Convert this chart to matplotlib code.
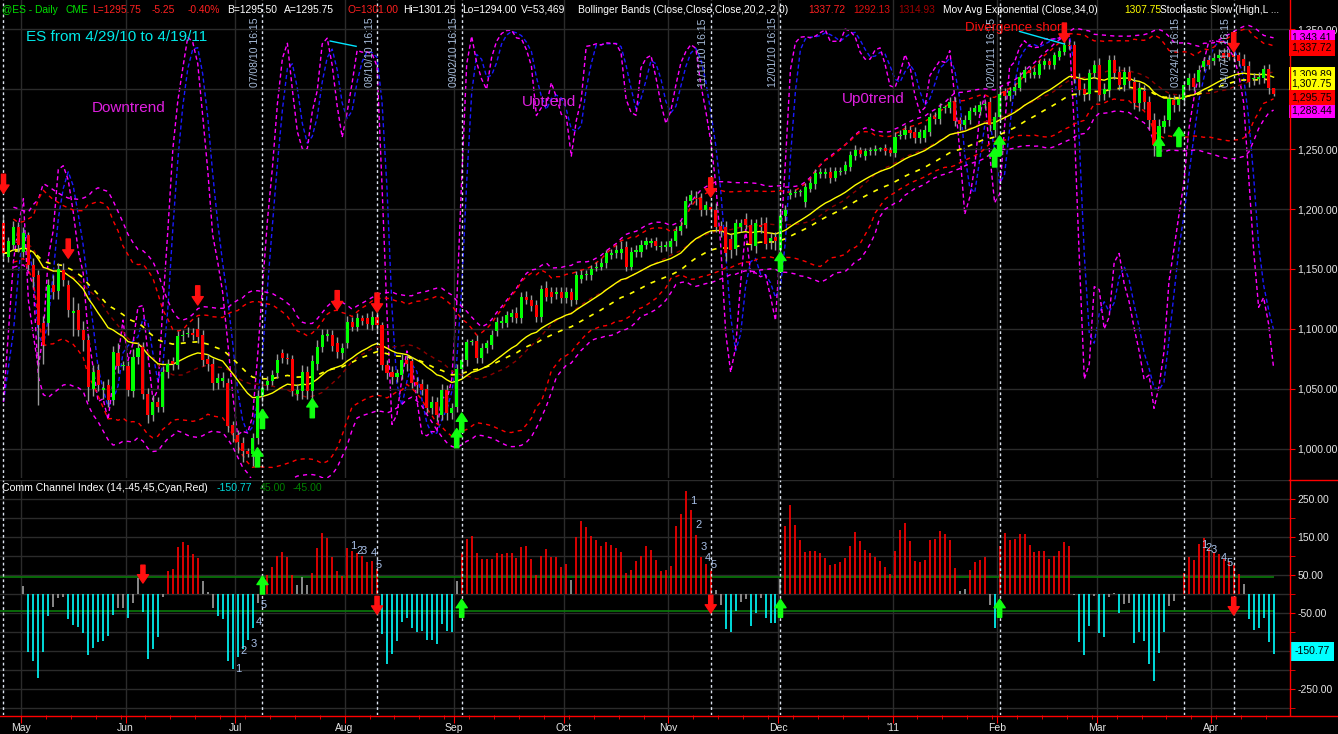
import numpy as np
import pandas as pd
import matplotlib
matplotlib.use('Agg')
import matplotlib.pyplot as plt
import matplotlib.transforms as mtrans
from matplotlib.lines import Line2D

plt.rcParams['font.family'] = ['Liberation Sans', 'DejaVu Sans']

# ---- data (ES daily, 4/27/10 .. 4/19/11) ----
dates = pd.bdate_range('2010-04-27', '2011-04-19')

opens = [1188, 1160, 1170, 1185, 1164, 1178, 1153, 1145, 1105, 1105,
         1137, 1132, 1149, 1137, 1113, 1116, 1099, 1091, 1050, 1066,
         1049, 1053, 1041, 1080, 1069, 1069, 1048, 1077, 1085, 1046,
         1028, 1039, 1035, 1064, 1073, 1070, 1094, 1096, 1097, 1100,
         1095, 1075, 1071, 1055, 1057, 1055, 1020, 1012, 1005, 998,
         996, 1009, 1044, 1053, 1057, 1063, 1080, 1076, 1075, 1046,
         1048, 1064, 1048, 1071, 1085, 1094, 1095, 1088, 1080, 1088,
         1106, 1102, 1109, 1109, 1103, 1110, 1103, 1070, 1064, 1060,
         1062, 1074, 1073, 1056, 1054, 1050, 1034, 1039, 1028, 1049,
         1030, 1035, 1067, 1074, 1089, 1090, 1076, 1084, 1087, 1098,
         1105, 1105, 1110, 1113, 1109, 1127, 1124, 1120, 1110, 1134,
         1131, 1129, 1131, 1126, 1131, 1124, 1142, 1145, 1145, 1151,
         1152, 1155, 1162, 1163, 1163, 1168, 1152, 1164, 1164, 1170,
         1172, 1173, 1168, 1168, 1168, 1173, 1182, 1187, 1207, 1209,
         1209, 1199, 1202, 1199, 1186, 1185, 1175, 1167, 1185, 1192,
         1187, 1169, 1187, 1188, 1173, 1177, 1166, 1194, 1212, 1213,
         1214, 1206, 1217, 1221, 1229, 1229, 1231, 1226, 1231, 1232,
         1235, 1244, 1249, 1244, 1248, 1248, 1250, 1251, 1249, 1247,
         1261, 1262, 1266, 1264, 1259, 1259, 1264, 1277, 1275, 1284,
         1284, 1289, 1274, 1270, 1274, 1281, 1281, 1287, 1289, 1266,
         1277, 1298, 1294, 1298, 1301, 1309, 1316, 1312, 1312, 1320,
         1323, 1320, 1327, 1331, 1337, 1337, 1308, 1300, 1296, 1313,
         1320, 1296, 1299, 1324, 1314, 1303, 1314, 1306, 1288, 1298,
         1289, 1274, 1253, 1268, 1274, 1291, 1287, 1291, 1303, 1309,
         1306, 1318, 1324, 1323, 1326, 1330, 1330, 1328, 1328, 1325,
         1319, 1308, 1308, 1309, 1317, 1301.00]

closes = [1163, 1173, 1185, 1170, 1180, 1153, 1143, 1103, 1087, 1137,
          1131, 1150, 1141, 1116, 1115, 1099, 1091, 1052, 1064, 1053,
          1051, 1041, 1081, 1069, 1070, 1049, 1077, 1084, 1046, 1028,
          1039, 1035, 1064, 1071, 1071, 1094, 1095, 1097, 1095, 1093,
          1074, 1071, 1055, 1059, 1059, 1019, 1013, 1006, 998, 996,
          1009, 1044, 1051, 1057, 1062, 1074, 1076, 1075, 1048, 1049,
          1064, 1048, 1073, 1085, 1095, 1096, 1086, 1081, 1084, 1106,
          1102, 1109, 1107, 1104, 1110, 1103, 1070, 1063, 1060, 1063,
          1074, 1071, 1055, 1053, 1049, 1034, 1039, 1028, 1049, 1030,
          1034, 1067, 1074, 1089, 1090, 1076, 1084, 1088, 1095, 1106,
          1107, 1112, 1113, 1109, 1127, 1124, 1119, 1110, 1133, 1127,
          1127, 1131, 1126, 1131, 1124, 1145, 1145, 1146, 1150, 1152,
          1155, 1163, 1163, 1166, 1167, 1152, 1164, 1166, 1170, 1173,
          1173, 1169, 1169, 1170, 1173, 1182, 1186, 1207, 1212, 1208,
          1199, 1203, 1199, 1185, 1182, 1163, 1166, 1188, 1188, 1187,
          1171, 1188, 1185, 1171, 1176, 1173, 1194, 1199, 1213, 1214,
          1214, 1218, 1222, 1230, 1231, 1231, 1226, 1232, 1232, 1237,
          1245, 1249, 1246, 1248, 1249, 1250, 1250, 1248, 1247, 1260,
          1262, 1266, 1263, 1259, 1264, 1266, 1277, 1275, 1284, 1284,
          1289, 1273, 1271, 1274, 1282, 1284, 1287, 1287, 1270, 1277,
          1296, 1294, 1298, 1302, 1310, 1316, 1313, 1314, 1321, 1323,
          1320, 1328, 1332, 1337, 1336, 1308, 1299, 1296, 1313, 1320,
          1295, 1300, 1324, 1313, 1303, 1314, 1307, 1288, 1301, 1289,
          1274, 1253, 1269, 1273, 1292, 1287, 1292, 1303, 1309, 1302,
          1316, 1323, 1320, 1326, 1328, 1326, 1327, 1327, 1323, 1319,
          1306, 1309, 1310, 1317, 1301, 1295.75]

upper_wick = [6, 4, 5, 4, 5, 3, 6, 4, 6, 5, 8, 5, 6, 4, 12, 6, 8, 4, 6, 5,
              6, 5, 5, 8, 3, 4, 6, 5, 4, 5, 6, 4, 5, 4, 4, 4, 4, 5, 4, 10,
              4, 4, 5, 4, 5, 4, 3, 4, 5, 3, 4, 5, 5, 4, 4, 5, 3, 4, 3, 5,
              6, 5, 5, 6, 5, 4, 4, 5, 4, 5, 4, 4, 3, 4, 5, 4, 3, 4, 5, 4,
              5, 4, 4, 4, 4, 4, 5, 4, 5, 4, 4, 4, 4, 3, 2, 5, 4, 3, 4, 4,
              4, 3, 4, 5, 4, 5, 4, 4, 4, 6, 4, 4, 4, 4, 3, 3, 4, 3, 3, 4,
              4, 3, 4, 4, 6, 5, 4, 4, 4, 4, 3, 4, 4, 3, 3, 4, 4, 4, 4, 6,
              4, 4, 4, 6, 4, 5, 4, 4, 4, 5, 5, 4, 6, 5, 4, 4, 4, 4, 4, 3,
              3, 4, 4, 3, 3, 3, 4, 3, 3, 3, 3, 4, 3, 3, 3, 3, 2, 3, 3, 4,
              4, 4, 3, 4, 3, 4, 3, 4, 4, 3, 4, 4, 3, 4, 3, 3, 3, 3, 4, 4,
              4, 3, 4, 3, 4, 3, 3, 4, 3, 3, 3, 3, 3, 3, 3, 3, 5, 5, 4, 4,
              6, 5, 4, 4, 5, 4, 5, 4, 5, 5, 5, 6, 6, 5, 4, 4, 4, 4, 4, 4,
              4, 4, 4, 4, 5, 4, 3, 4, 3, 4, 4, 4, 4, 3, 4, 0.25]

lower_wick = [5, 4, 4, 6, 4, 4, 8, 66, 16, 10, 6, 7, 5, 6, 19, 5, 9, 12, 6, 5,
              7, 6, 4, 6, 3, 5, 5, 6, 4, 6, 5, 4, 4, 5, 5, 3, 4, 3, 4, 5,
              5, 6, 6, 5, 5, 5, 7, 9, 9, 3, 10, 5, 5, 4, 4, 4, 4, 4, 4, 5,
              6, 6, 6, 5, 4, 4, 4, 5, 5, 4, 4, 4, 4, 4, 4, 5, 4, 5, 6, 4,
              4, 6, 4, 6, 4, 4, 5, 5, 4, 6, 5, 4, 5, 5, 2, 4, 4, 4, 4, 4,
              4, 3, 4, 4, 4, 3, 4, 4, 4, 4, 5, 4, 4, 4, 5, 3, 4, 4, 4, 3,
              3, 4, 4, 4, 5, 4, 3, 4, 4, 3, 4, 3, 4, 3, 5, 4, 4, 3, 3, 5,
              5, 4, 4, 4, 5, 6, 7, 5, 4, 4, 5, 6, 5, 4, 6, 7, 8, 4, 4, 3,
              3, 4, 3, 4, 3, 3, 4, 3, 3, 3, 3, 3, 3, 3, 3, 3, 2, 3, 3, 4,
              3, 4, 4, 4, 4, 3, 3, 4, 4, 4, 4, 4, 5, 3, 3, 3, 3, 3, 5, 6,
              4, 3, 4, 3, 3, 3, 4, 3, 3, 3, 3, 3, 3, 3, 3, 3, 4, 6, 5, 4,
              5, 5, 6, 5, 4, 5, 6, 5, 6, 6, 7, 9, 6, 5, 5, 6, 5, 4, 4, 4,
              4, 3, 3, 3, 3, 4, 3, 3, 4, 4, 4, 5, 4, 4, 5, 1.75]

# signal bars (dashed markers) and arrows
signal_bars = [0, 52, 75, 92, 142, 156, 200, 237, 247]
down_arrow_bars = [0, 13, 39, 67, 75, 142, 213, 247]
down_arrow_tips = [1213, 1159, 1120, 1116, 1114, 1210, 1339, 1331]
up_arrow_bars = [51, 52, 62, 91, 92, 156, 199, 200, 232, 236]
up_arrow_tips = [1001, 1033, 1042, 1017, 1030, 1164, 1251, 1261, 1260, 1268]
cci_down_bars = [28, 75, 142, 247]
cci_down_tips = [29, -53, -50, -55]
cci_up_bars = [52, 92, 156, 200]
cci_up_tips = [47, -14, -14, -14]
count_labels = ['1', '2', '3', '4', '5']
count_x = [[47.2, 48.2, 50.3, 51.3, 52.3], [70.2, 71.4, 72.4, 74.4, 75.3],
           [138.5, 139.5, 140.5, 141.5, 142.5], [241.1, 241.9, 243.0, 245.0, 246.1]]
count_y = [[-197, -150, -131, -74, -29], [126, 113, 113, 109, 76],
           [245, 182, 124, 95, 76], [129, 121, 116, 95, 82]]

# ---- indicators ----
o = np.array(opens, float)
c = np.array(closes, float)
h = np.maximum(o, c) + np.array(upper_wick, float)
l = np.minimum(o, c) - np.array(lower_wick, float)
x = np.arange(len(c))
cs, hs, ls_ = pd.Series(c), pd.Series(h), pd.Series(l)

mid = cs.rolling(20, min_periods=3).mean()
sd = cs.rolling(20, min_periods=3).std(ddof=0)
bb_up, bb_dn = mid + 2 * sd, mid - 2 * sd
hb = hs.rolling(20, min_periods=3).mean() + 2 * hs.rolling(20, min_periods=3).std(ddof=0)
lb = ls_.rolling(20, min_periods=3).mean() - 2 * ls_.rolling(20, min_periods=3).std(ddof=0)
ema_fast = cs.ewm(span=20, adjust=False).mean()
ema34 = cs.ewm(span=34, adjust=False).mean()

hh = hs.rolling(14, min_periods=1).max()
ll = ls_.rolling(14, min_periods=1).min()
rawk = 100 * (cs - ll) / (hh - ll)
slowk = rawk.rolling(3, min_periods=1).mean()
slowd = slowk.rolling(3, min_periods=1).mean()

tp = (hs + ls_ + cs) / 3
mad = tp.rolling(14, min_periods=5).apply(lambda v: np.mean(np.abs(v - v.mean())), raw=True)
cci = ((tp - tp.rolling(14, min_periods=5).mean()) / (0.015 * mad)).fillna(0).values
cci_col = np.where(cci > 45, '#ff0000', np.where(cci < -45, '#00ffff', '#a0a0a0'))

# ---- figure ----
W, H = 1338, 734
fig = plt.figure(figsize=(W / 100, H / 100), dpi=100, facecolor='black')


def fx(px):
    return px / W


def fy(py):
    return 1 - py / H


rect_top = [0, fy(478), fx(1289), 478 / H]
ax_st = fig.add_axes(rect_top)
ax = fig.add_axes(rect_top, sharex=ax_st)
ax_st.axis('off')
ax.patch.set_visible(False)
ax_cci = fig.add_axes([0, fy(715), fx(1289), (715 - 480) / H], sharex=ax_st)
ax_cci.set_facecolor('black')

xmin, xmax = -0.7, 258.1
ax.set_xlim(xmin, xmax)
ax.set_ylim(975.8, 1374.2)
ax_st.set_ylim(-2.9, 102.6)
ax_cci.set_ylim(-318, 300)

grid_c = '#2b2b2b'
month_pos = [i - 0.5 for i in range(1, len(dates)) if dates[i].month != dates[i - 1].month]
month_lab = ["'11" if dates[int(p + 0.5)].month == 1 else dates[int(p + 0.5)].strftime('%b')
             for p in month_pos]
monday_pos = [i - 0.5 for i in range(len(dates)) if dates[i].weekday() == 0]

for a in (ax, ax_cci):
    for p in month_pos:
        a.axvline(p, color=grid_c, lw=1, zorder=0)
    for s in a.spines.values():
        s.set_visible(False)
for v in range(1000, 1351, 50):
    ax.axhline(v, color=grid_c, lw=1, zorder=0)
for v in range(-300, 301, 50):
    ax_cci.axhline(v, color=grid_c, lw=1, zorder=0)

# stochastic (behind price)
dash = (0, (3, 2))
ax_st.plot(x, slowd, color='#1a1aff', lw=1, ls=dash)
ax_st.plot(x, slowk, color='#ff00ff', lw=1, ls=dash)

# bands and averages
ax.plot(x, hb, color='#ff00ff', lw=1, ls=(0, (3, 3)), zorder=2)
ax.plot(x, lb, color='#ff00ff', lw=1, ls=(0, (3, 3)), zorder=2)
ax.plot(x, bb_up, color='#ff0000', lw=1, ls=(0, (3, 3)), zorder=2)
ax.plot(x, bb_dn, color='#ff0000', lw=1, ls=(0, (3, 3)), zorder=2)
ax.plot(x, mid, color='#8b0000', lw=1, ls=(0, (3, 3)), zorder=2)
ax.plot(x, ema34, color='#ffff00', lw=1.2, ls=(0, (3, 4)), zorder=2)
ax.plot(x, ema_fast, color='#ffff00', lw=1, zorder=2)

# candles
up = c >= o
ax.vlines(x, l, h, color='#9a9a9a', lw=1, zorder=3)
ax.bar(x, np.maximum(np.abs(c - o), 0.8), bottom=np.minimum(o, c), width=0.62,
       color=np.where(up, '#00ff00', '#ff0000'), linewidth=0, zorder=4)

# CCI histogram
ax_cci.vlines(x, 0, cci, colors=cci_col, lw=1.2, zorder=2)
ax_cci.hlines([45, -45], xmin, x[-1], color='#0a7a0a', lw=1.2, zorder=1)

# signal lines
for a in (ax, ax_cci):
    for b in signal_bars:
        a.axvline(b, color='#dde4f0', lw=1, ls=(0, (2, 2)), zorder=5)
for b in signal_bars[1:]:
    ax.text(b - 0.5, 1301.7, dates[b].strftime('%m/%d/%y') + ' 16:15', rotation=90,
            ha='right', va='bottom', color='#a9bedc', fontsize=7.5, zorder=5)


def arrow(a, i, tip, tail, color):
    a.annotate('', xy=(i, tip), xytext=(i, tail), zorder=7,
               arrowprops=dict(facecolor=color, edgecolor=color, width=3,
                               headwidth=8, headlength=6, shrink=0))


for b, t in zip(down_arrow_bars, down_arrow_tips):
    arrow(ax, b, t, t + 16, '#ff1010')
for b, t in zip(up_arrow_bars, up_arrow_tips):
    arrow(ax, b, t, t - 16, '#10ff10')
for b, t in zip(cci_down_bars, cci_down_tips):
    arrow(ax_cci, b, t, t + 47, '#ff1010')
for b, t in zip(cci_up_bars, cci_up_tips):
    arrow(ax_cci, b, t, t - 47, '#10ff10')

for xs, ys in zip(count_x, count_y):
    for s, xx, yy in zip(count_labels, xs, ys):
        ax_cci.text(xx, yy, s, color='#a8c0e8', fontsize=8, ha='center', va='center', zorder=8)

# divergence lines and notes
ax.plot([65.6, 70.8], [1340, 1335.6], color='#00e5ff', lw=1, zorder=6)
ax.plot([204, 213], [1348, 1337.5], color='#00e5ff', lw=1, zorder=6)
ax.text(25.1, 1284, 'Downtrend', color='#e020e0', fontsize=11, ha='center', va='center', zorder=6)
ax.text(109.5, 1289.6, 'Uptrend', color='#e020e0', fontsize=11, ha='center', va='center', zorder=6)
ax.text(174.7, 1291.7, 'Up0trend', color='#e020e0', fontsize=11, ha='center', va='center', zorder=6)
ax.text(203.1, 1351, 'Divergence short', color='#ff1010', fontsize=9.5, ha='center', va='center', zorder=6)
fig.text(fx(26), fy(37), 'ES from 4/29/10 to 4/19/11', color='#00e8e8', fontsize=11, va='center')

# axes ticks (labels hidden by the value boxes in the original are left out)
price_ticks = list(range(1000, 1351, 50))
ax.yaxis.tick_right()
ax.set_yticks(price_ticks)
ax.set_yticklabels(['' if v == 1300 else f'{v:,.2f}' for v in price_ticks])
ax.tick_params(axis='y', colors='#ff0000', labelcolor='#e6e6e6', length=4, pad=2, labelsize=7.5)
ax.tick_params(axis='x', length=0, labelbottom=False)
cci_ticks = [-250, -150, -50, 50, 150, 250]
ax_cci.yaxis.tick_right()
ax_cci.set_yticks(cci_ticks)
ax_cci.set_yticklabels(['' if v == -150 else f'{v:,.2f}' for v in cci_ticks])
ax_cci.set_yticks(range(-300, 301, 100), minor=True)
ax_cci.tick_params(axis='y', which='both', colors='#ff0000', labelcolor='#e6e6e6',
                   length=4, pad=2, labelsize=7.5)
ax_cci.set_xticks(month_pos)
ax_cci.set_xticklabels(month_lab)
ax_cci.set_xticks(monday_pos, minor=True)
ax_cci.tick_params(axis='x', which='major', colors='#ff0000', labelcolor='#e6e6e6',
                   length=6, pad=0, labelsize=7.5)
ax_cci.tick_params(axis='x', which='minor', colors='#ff0000', length=3)

# value boxes on the price scale
bt = mtrans.blended_transform_factory(ax.transAxes, ax.transData)
boxes = [(1342.6, '1,343.41', '#ff00ff'), (1334.2, '1,337.72', '#ff0000'),
         (1311.7, f'{ema_fast.iloc[-1]:,.2f}', '#ffff00'), (1304.4, '1,307.75', '#ffff00'),
         (1282.5, '1,288.44', '#ff00ff'), (1293.0, '1,295.75', '#ff0000')]
for yv, s, col in boxes:
    ax.text(1.002, yv, s, transform=bt, fontsize=7.5, color='black', ha='left', va='center',
            clip_on=False, zorder=9,
            bbox=dict(boxstyle='square,pad=0.25', facecolor=col, edgecolor='none'))
bt2 = mtrans.blended_transform_factory(ax_cci.transAxes, ax_cci.transData)
ax_cci.text(1.004, -150.77, '-150.77', transform=bt2, fontsize=7.5, color='black', ha='left',
            va='center', clip_on=False, zorder=9,
            bbox=dict(boxstyle='square,pad=0.4', facecolor='#00ffff', edgecolor='none'))

# header lines
header = [(2, '@ES - Daily', '#00e000'), (65, 'CME', '#00e000'), (92, 'L=1295.75', '#ff2020'),
          (152, '-5.25', '#ff2020'), (188, '-0.40%', '#ff2020'), (227, 'B=1295.50', '#ffffff'),
          (284, 'A=1295.75', '#ffffff'), (348, 'O=1301.00', '#ff2020'),
          (403, 'Hi=1301.25', '#ffffff'), (462, 'Lo=1294.00', '#ffffff'),
          (521, 'V=53,469', '#ffffff'),
          (578, 'Bollinger Bands (Close,Close,Close,20,2,-2,0)', '#ffffff'),
          (808, '1337.72', '#ff2020'), (853, '1292.13', '#e01010'), (898, '1314.93', '#a00000'),
          (943, 'Mov Avg Exponential (Close,34,0)', '#ffffff'), (1124, '1307.75', '#ffff00'),
          (1160, 'Stochastic Slow (High,L ...', '#ffffff')]
for px, s, col in header:
    fig.text(fx(px), fy(10), s, color=col, fontsize=7.4, va='center')
cci_head = [(2, 'Comm Channel Index (14,-45,45,Cyan,Red)', '#ffffff'), (217, '-150.77', '#00d8d8'),
            (260, '45.00', '#008000'), (293, '-45.00', '#008000')]
for px, s, col in cci_head:
    fig.text(fx(px), fy(488), s, color=col, fontsize=7.6, va='center')

# frame lines
red = '#ff0000'
fig.add_artist(Line2D([fx(1289.5)] * 2, [fy(0), fy(715)], color=red, lw=1))
fig.add_artist(Line2D([0, 1], [fy(715.5)] * 2, color=red, lw=1))
fig.add_artist(Line2D([fx(1289), 1], [fy(480)] * 2, color=red, lw=1))

fig.savefig('out.png', dpi=100, facecolor='black')
